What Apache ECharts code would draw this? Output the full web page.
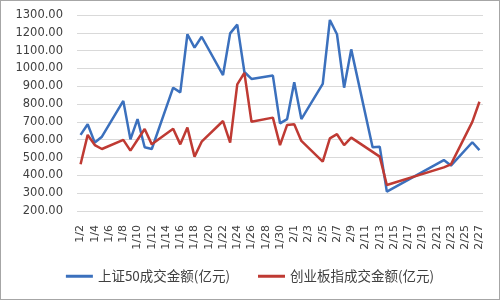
<!DOCTYPE html>
<html>
<head>
<meta charset="utf-8">
<script src="https://cdn.jsdelivr.net/npm/echarts@6/dist/echarts.min.js"></script>
<style>
html,body{margin:0;padding:0;background:#fff;}
#wrap{width:500px;height:300px;box-sizing:border-box;border:1px solid #a6a6a6;position:relative;}
#chart{position:absolute;left:-1px;top:-1px;width:500px;height:300px;}
</style>
</head>
<body>
<div id="wrap"><div id="chart"></div></div>
<script>
// Trading days (M/D) and values
const tradeDays = ["1/2","1/3","1/4","1/5","1/8","1/9","1/10","1/11","1/12","1/15","1/16","1/17","1/18","1/19","1/22","1/23","1/24","1/25","1/26","1/29","1/30","1/31","2/1","2/2","2/5","2/6","2/7","2/8","2/9","2/12","2/13","2/14","2/22","2/23","2/26","2/27"];
const sz50 = [627,687,584,617,818,602,716,558,548,892,866,1192,1117,1178,963,1197,1246,980,941,960,692,716,922,716,913,1272,1192,892,1107,558,561,309,486,455,586,542];
const cyb  = [462,627,570,548,599,539,600,660,574,662,574,668,505,589,705,584,911,975,701,724,570,683,687,593,477,608,631,570,612,532,505,346,445,462,700,813];
const seriesNames = ["上证50成交金额(亿元)","创业板指成交金额(亿元)"];
const yTicks = [200,300,400,500,600,700,800,900,1000,1100,1200,1300];

// Calendar axis: every day from 1/2 to 2/27
const monthDays = [[1,2,31],[2,1,27]];
const calendar = [];
monthDays.forEach(([m,a,b]) => { for (let d=a; d<=b; d++) calendar.push(m + "/" + d); });

function toCal(vals){
  const map = {};
  tradeDays.forEach((d,i)=>{ map[d]=vals[i]; });
  return calendar.map(d => (d in map) ? map[d] : null);
}

const chart = echarts.init(document.getElementById('chart'), null, {renderer:'canvas'});
chart.setOption({
  animation:false,
  backgroundColor:'transparent',
  textStyle:{fontFamily:"'DejaVu Sans','Noto Sans CJK SC',sans-serif"},
  grid:{left:77,right:17,top:15,bottom:89},
  xAxis:{
    type:'category',
    data:calendar,
    boundaryGap:true,
    axisLine:{show:false},
    axisTick:{show:false},
    axisLabel:{interval:1,rotate:90,fontSize:11,color:'#404040',margin:14}
  },
  yAxis:{
    type:'value',
    min:yTicks[0],max:yTicks[yTicks.length-1],interval:100,
    axisLine:{show:false},
    axisTick:{show:false},
    axisLabel:{formatter:v=>v.toFixed(2),fontSize:11.5,color:'#404040',margin:14},
    splitLine:{lineStyle:{color:'#d9d9d9',width:1}}
  },
  legend:{
    bottom:12,left:'center',
    icon:'rect',
    itemWidth:27,itemHeight:3,itemGap:28,
    textStyle:{fontSize:13.5,color:'#404040',fontFamily:"'Noto Sans CJK SC',sans-serif"},
    data:seriesNames
  },
  series:[
    {name:seriesNames[0],type:'line',data:toCal(sz50),connectNulls:true,symbol:'none',
     color:'#3b70bd',lineStyle:{width:2.5,color:'#3b70bd'}},
    {name:seriesNames[1],type:'line',data:toCal(cyb),connectNulls:true,symbol:'none',
     color:'#bf3a33',lineStyle:{width:2.5,color:'#bf3a33'}}
  ]
});
</script>
</body>
</html>
